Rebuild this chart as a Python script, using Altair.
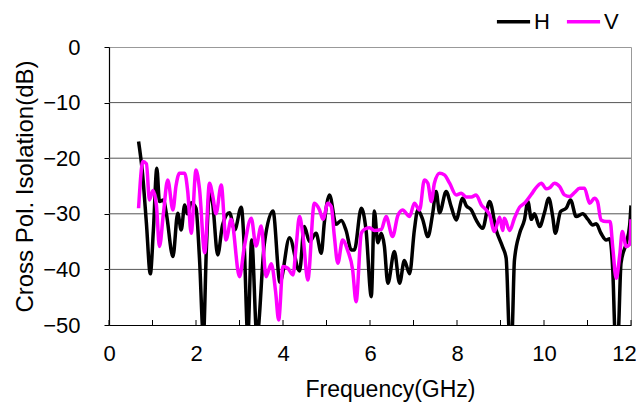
import altair as alt
import pandas as pd

# ---- data ----
h_freq = [0.68, 0.77, 0.86, 0.95, 1.02, 1.10, 1.16, 1.25, 1.32, 1.47, 1.58, 1.66, 1.74, 1.80, 1.89, 2.00,
          2.08, 2.17, 2.24, 2.31, 2.38, 2.50, 2.61, 2.77, 2.89, 3.04, 3.11, 3.19, 3.28, 3.40, 3.57, 3.77,
          3.93, 4.15, 4.38, 4.49, 4.61, 4.76, 4.88, 4.95, 5.07, 5.22, 5.34, 5.45, 5.57, 5.64, 5.80, 5.91,
          6.03, 6.10, 6.18, 6.26, 6.33, 6.41, 6.56, 6.68, 6.79, 6.91, 7.02, 7.10, 7.21, 7.33, 7.44, 7.52,
          7.60, 7.75, 7.87, 7.98, 8.13, 8.21, 8.33, 8.44, 8.59, 8.75, 8.90, 9.05, 9.13, 9.21, 9.26, 9.32,
          9.44, 9.55, 9.63, 9.71, 9.78, 9.90, 10.01, 10.11, 10.20, 10.26, 10.38, 10.51, 10.61, 10.74,
          10.89, 11.01, 11.12, 11.20, 11.31, 11.43, 11.51, 11.58, 11.64, 11.70, 11.77, 11.89, 11.97, 12.0]
h_db = [-17.0, -22.7, -31.7, -40.8, -33.0, -21.8, -27.8, -27.5, -30.0, -37.7, -29.9, -32.9, -28.4, -30.0, -28.0, -29.0,
        -38.0, -52.0, -36.0, -26.3, -28.0, -37.4, -32.0, -29.8, -32.9, -28.8, -36.0, -52.0, -34.7, -52.0, -35.5, -29.5,
        -42.3, -34.3, -40.3, -32.3, -35.0, -33.5, -37.1, -31.6, -26.6, -31.9, -31.2, -33.0, -36.5, -36.5, -29.0, -33.0,
        -44.9, -29.5, -35.2, -33.5, -35.8, -42.5, -36.8, -42.5, -38.4, -40.8, -32.9, -29.3, -31.0, -34.1, -30.0, -26.0,
        -29.8, -26.0, -28.8, -31.1, -27.2, -28.5, -29.3, -31.1, -32.6, -27.8, -32.9, -36.0, -38.0, -52.0, -52.0, -38.4,
        -33.5, -31.1, -27.8, -31.0, -30.0, -32.3, -29.8, -27.2, -30.5, -33.5, -29.6, -29.0, -27.5, -30.5,
        -30.0, -31.0, -32.0, -31.8, -33.5, -34.7, -34.5, -40.0, -52.0, -52.0, -38.9, -35.3, -32.0, -28.5]

v_freq = [0.68, 0.78, 0.86, 0.93, 1.01, 1.09, 1.16, 1.25, 1.35, 1.47, 1.54, 1.62, 1.74, 1.81, 1.89, 2.00,
          2.08, 2.20, 2.31, 2.39, 2.46, 2.58, 2.69, 2.81, 3.00, 3.11, 3.27, 3.38, 3.50, 3.61, 3.73, 3.83,
          3.90, 4.00, 4.11, 4.23, 4.30, 4.38, 4.46, 4.57, 4.72, 4.84, 4.92, 5.03, 5.11, 5.18, 5.26, 5.37,
          5.49, 5.60, 5.68, 5.80, 5.87, 5.99, 6.10, 6.26, 6.37, 6.52, 6.64, 6.75, 6.91, 7.02, 7.14, 7.25,
          7.33, 7.41, 7.48, 7.60, 7.71, 7.83, 7.98, 8.10, 8.21, 8.33, 8.44, 8.56, 8.67, 8.75, 8.86, 8.98,
          9.05, 9.09, 9.21, 9.32, 9.44, 9.55, 9.71, 9.78, 9.94, 10.05, 10.13, 10.24, 10.36, 10.47, 10.59,
          10.70, 10.82, 10.93, 11.05, 11.16, 11.23, 11.31, 11.43, 11.52, 11.58, 11.66, 11.74, 11.80, 11.89,
          11.97, 12.0]
v_db = [-29.0, -20.6, -21.0, -27.5, -25.8, -28.5, -35.9, -30.0, -23.9, -29.3, -25.0, -22.7, -22.7, -26.0, -33.5, -22.1,
        -25.5, -37.0, -24.5, -27.0, -30.0, -24.8, -34.7, -31.0, -41.3, -36.0, -30.8, -35.8, -32.2, -41.3, -39.0, -44.0,
        -49.1, -39.5, -39.8, -41.0, -36.0, -30.5, -34.0, -41.9, -28.1, -29.3, -31.0, -28.1, -28.7, -34.0, -38.9, -34.7,
        -36.7, -40.0, -45.8, -33.5, -32.8, -32.5, -33.0, -32.8, -30.5, -34.1, -30.3, -29.3, -30.5, -28.1, -29.3, -23.9,
        -24.5, -27.8, -24.5, -22.7, -23.0, -24.5, -26.6, -26.3, -27.0, -27.0, -26.6, -28.4, -29.3, -30.2, -33.2, -30.6,
        -33.0, -30.8, -33.0, -30.8, -28.8, -28.1, -26.5, -25.7, -24.5, -25.5, -25.3, -24.5, -25.1, -26.6, -26.9,
        -26.2, -25.4, -25.4, -28.1, -27.2, -27.8, -31.1, -31.4, -31.4, -36.0, -41.6, -37.5, -33.2, -35.9,
        -35.5, -31.0]

series = ["H", "V"]
series_colors = ["#000000", "#FF00FF"]
y_grid = [-40, -30, -20, -10]
y_ticks = [-50, -45, -40, -35, -30, -25, -20, -15, -10, -5, 0]
x_labels = [0, 2, 4, 6, 8, 10, 12]
x_minor = list(range(0, 13))

df = pd.concat([
    pd.DataFrame({"f": h_freq, "db": h_db, "pol": "H"}),
    pd.DataFrame({"f": v_freq, "db": v_db, "pol": "V"}),
])

FONT = "Liberation Sans"
xscale = alt.Scale(domain=[0, 12], nice=False, zero=False)
yscale = alt.Scale(domain=[-50, 0], nice=False, zero=False)

grid = alt.Chart(pd.DataFrame({"g": y_grid})).mark_rule(color="#555555", strokeWidth=1).encode(
    y=alt.Y("g:Q", scale=yscale)
)

ticks = alt.Chart(pd.DataFrame({"t": x_minor})).mark_rule(color="#000000", strokeWidth=1).encode(
    x=alt.X("t:Q", scale=xscale),
    y=alt.value(278),
    y2=alt.value(273),
)

lines = alt.Chart(df).mark_line(strokeWidth=3.5, interpolate="monotone", clip=True).encode(
    x=alt.X("f:Q", scale=xscale,
            axis=alt.Axis(values=x_labels, title="Frequency(GHz)", ticks=False, grid=False,
                          labelFlush=False, labelOverlap=False,
                          labelOffset={"expr": "datum.value == 12 ? -7 : 0"},
                          domainColor="#000000", domainWidth=1.2,
                          labelFont=FONT, labelFontSize=22, labelColor="#000000", labelPadding=18,
                          titleFont=FONT, titleFontSize=23, titleFontWeight="normal", titleColor="#000000",
                          titleX=281, titleY=64, titleBaseline="middle")),
    y=alt.Y("db:Q", scale=yscale,
            axis=alt.Axis(values=y_ticks, title="Cross Pol. Isolation(dB)", grid=False,
                          labelFlush=False, labelOverlap=False,
                          labelExpr="datum.value % 10 == 0 ? datum.label : ''",
                          tickSize=5, tickColor="#000000", domainColor="#000000", domainWidth=1.2,
                          labelFont=FONT, labelFontSize=22, labelColor="#000000", labelPadding=24,
                          titleFont=FONT, titleFontSize=24, titleFontWeight="normal", titleColor="#000000",
                          titleX=-84, titleY=139, titleBaseline="middle", titleAngle=-90)),
    color=alt.Color("pol:N", scale=alt.Scale(domain=series, range=series_colors),
                    legend=alt.Legend(orient="none", legendX=386, legendY=-44, direction="horizontal",
                                      title=None, symbolType="stroke", symbolSize=1100,
                                      symbolStrokeWidth=3.5, labelFont=FONT, labelFontSize=22,
                                      labelColor="#000000", labelOffset=2, columnPadding=9)),
)

chart = alt.layer(grid, ticks, lines).properties(
    width=522, height=278,
    autosize=alt.AutoSizeParams(type="none"),
    padding={"left": 101, "top": 39, "right": 5, "bottom": 79},
    background="white",
).configure_view(stroke="#999999", strokeWidth=1)

chart.save("out.html", embed_options={"renderer": "svg", "actions": False})
